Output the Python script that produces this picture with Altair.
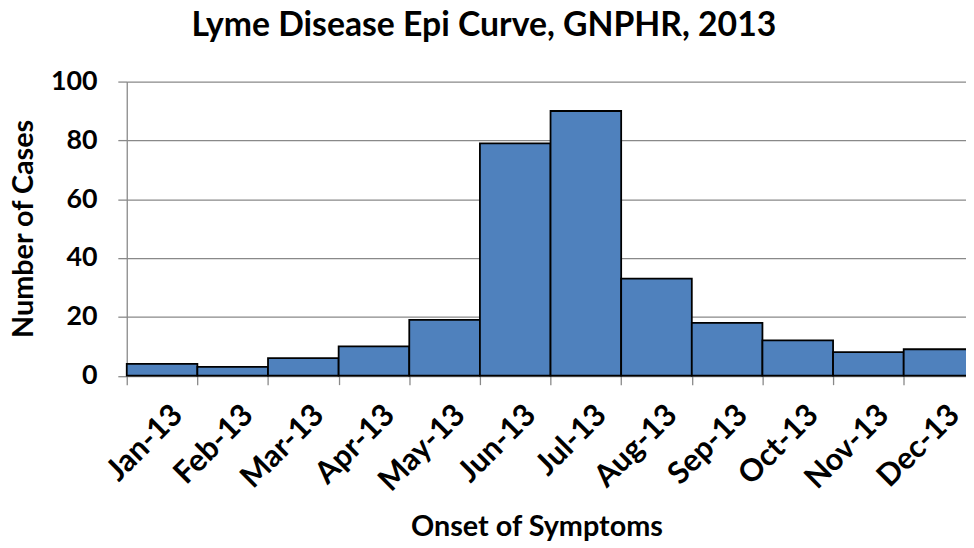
import altair as alt
import pandas as pd

months = ["Jan-13", "Feb-13", "Mar-13", "Apr-13", "May-13", "Jun-13",
          "Jul-13", "Aug-13", "Sep-13", "Oct-13", "Nov-13", "Dec-13"]
cases = [4, 3, 6, 10, 19, 79, 90, 33, 18, 12, 8, 9]

df = pd.DataFrame({"month": months, "cases": cases})

FONT = "Lato"
GRAY = "#898989"

chart = alt.Chart(df).mark_bar(
    color="#4F81BD", stroke="black", strokeWidth=1.8
).encode(
    x=alt.X("month:N", sort=months,
            scale=alt.Scale(range=[0, 854.4], paddingInner=0, paddingOuter=0),
            axis=alt.Axis(title="Onset of Symptoms", labelAngle=-45,
                          labelAlign="right", labelBaseline="top",
                          tickBand="extent", tickSize=9, labelPadding=15,
                          labelOffset=5,
                          titleX=413, titleY=161, titleBaseline="alphabetic",
                          titleAlign="center")),
    y=alt.Y("cases:Q", scale=alt.Scale(domain=[0, 100], nice=False),
            axis=alt.Axis(title="Number of Cases", values=[0, 20, 40, 60, 80, 100],
                          tickSize=9, labelPadding=21, grid=True,
                          titleX=-95, titleY=148, titleBaseline="alphabetic",
                          titleAlign="center", titleAngle=-90)),
).properties(
    width=846,
    height=296.5,
    padding={"left": 119.7, "top": 72, "right": 0, "bottom": 171},
    autosize=alt.AutoSizeParams(type="none"),
    title=alt.TitleParams(
        "Lyme Disease Epi Curve, GNPHR, 2013",
        font=FONT, fontSize=34, fontWeight="bold", color="black",
        anchor="middle", dx=-63, dy=16, offset=14, baseline="alphabetic",
    ),
).configure_view(stroke=None).configure_axis(
    labelFont=FONT, labelFontWeight="bold", labelColor="black",
    titleFont=FONT, titleFontWeight="bold", titleColor="black",
    domainColor=GRAY, tickColor=GRAY, gridColor=GRAY,
    domainWidth=1.3, tickWidth=1.3, gridWidth=1.3, gridOpacity=1,
).configure_axisX(
    labelFontSize=31, titleFontSize=29, grid=False,
).configure_axisY(
    labelFontSize=27, titleFontSize=29,
)

chart.save("out.html", embed_options={"renderer": "svg", "actions": False})
